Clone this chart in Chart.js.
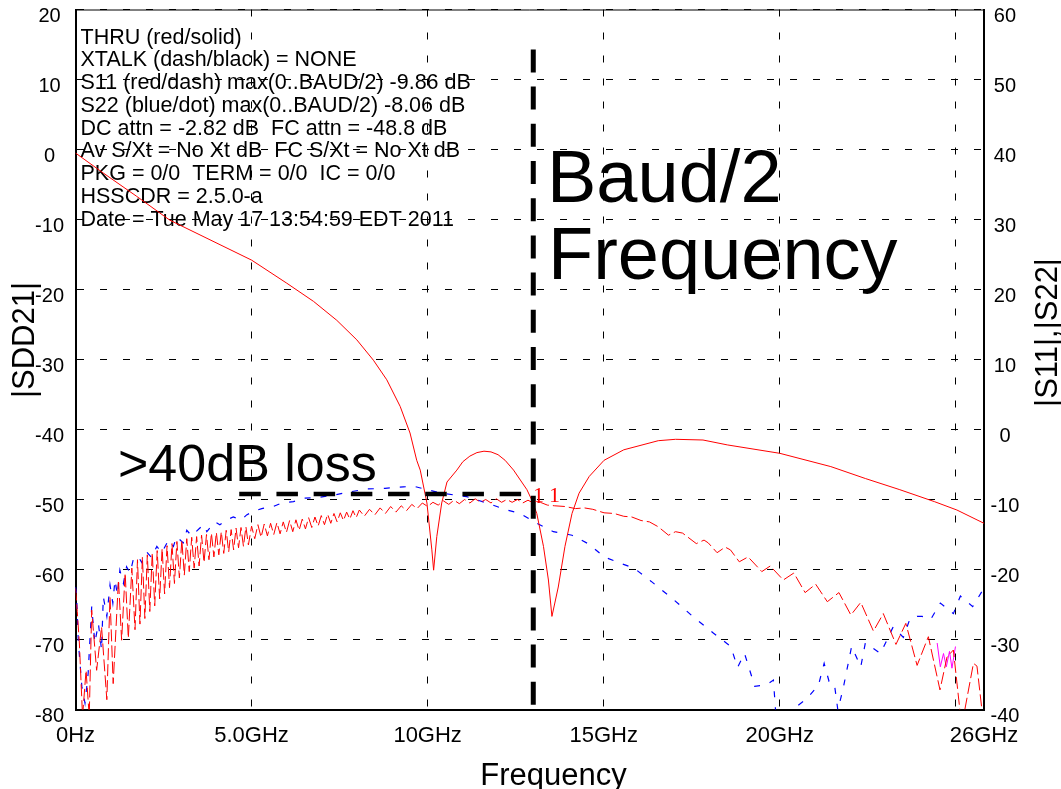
<!DOCTYPE html>
<html>
<head>
<meta charset="utf-8">
<title>|SDD21|, |S11|, |S22| vs Frequency</title>
<script src="https://cdn.jsdelivr.net/npm/chart.js@4.4.1/dist/chart.umd.min.js"></script>
<style>
  html, body { margin: 0; padding: 0; background: #fff; }
  #wrap { width: 1061px; height: 789px; }
</style>
</head>
<body>
<div id="wrap"><canvas id="chart"></canvas></div>
<script>
// frequency ticks (GHz) and the labels printed under them
const xTickValues = [0, 5, 10, 15, 20, 25, 25.8];
const xTickLabels = ['0Hz', '5.0GHz', '10GHz', '15GHz', '20GHz', '', '26GHz'];

// |SDD21| thru response, left axis (dB)
const thruGHz = [0, 0.8, 1.74, 2.68, 3.82, 5.0, 6.0, 6.76, 7.42, 7.99, 8.46, 8.84, 9.22, 9.5, 9.69, 9.79,
  9.98, 10.12, 10.17, 10.26, 10.4, 10.55, 10.83, 11.0, 11.2, 11.4, 11.6, 11.8, 12.0, 12.2, 12.44, 12.82,
  12.96, 13.1, 13.29, 13.43, 13.53, 13.71, 13.9, 14.1, 14.3, 14.59, 15.01, 15.57, 16.55, 17.04, 17.82,
  18.51, 20.0, 21.45, 22.43, 23.41, 24.39, 25.03, 25.8];
const thruDb = [-0.5, -3.4, -6.7, -10.1, -12.9, -15.8, -19.1, -21.7, -24.4, -27.2, -30.1, -32.9, -36.7, -40.5, -44.4, -45.8,
  -50.5, -57.2, -60.1, -55.3, -50.5, -47.5, -45.8, -44.6, -43.8, -43.3, -43.1, -43.2, -43.6, -44.4, -45.8, -48.6,
  -50.1, -52, -56.7, -61.5, -66.7, -62.5, -56.7, -52, -49.1, -46.7, -44.4, -42.9, -41.6, -41.4, -41.5,
  -42.2, -43.4, -45.3, -47, -48.6, -50.3, -51.5, -53.4];

// |S11| (red dash), right axis (dB)
const s11GHz = [0.00, 0.05, 0.11, 0.20, 0.30, 0.39, 0.46, 0.60, 0.74, 0.89, 0.98, 1.07, 1.22, 1.31, 1.41, 1.50, 1.60, 1.69,
  1.76, 1.83, 1.90, 1.97, 2.04, 2.11, 2.18, 2.25, 2.32, 2.39, 2.46, 2.53, 2.60, 2.67, 2.74, 2.81, 2.88, 2.95,
  3.02, 3.09, 3.16, 3.23, 3.30, 3.37, 3.44, 3.51, 3.58, 3.65, 3.72, 3.79, 3.86, 3.93, 4.00, 4.07, 4.14, 4.21,
  4.28, 4.35, 4.42, 4.49, 4.56, 4.63, 4.70, 4.77, 4.84, 4.91,
  5.00, 5.09, 5.18, 5.27, 5.36, 5.45, 5.54, 5.63, 5.72, 5.81, 5.90, 5.99, 6.08, 6.17, 6.26, 6.35, 6.44, 6.53,
  6.62, 6.71, 6.80, 6.89, 6.98, 7.07, 7.16, 7.25, 7.34, 7.43, 7.52, 7.61, 7.70, 7.79, 7.88, 7.97, 8.06, 8.20,
  8.35, 8.50, 8.65, 8.80, 8.95, 9.10, 9.25, 9.40, 9.55, 9.70, 9.85, 10.00, 10.15, 10.30, 10.45, 10.60, 10.75,
  10.90, 11.05, 11.20, 11.35, 11.50, 11.65, 11.80, 11.95, 12.10, 12.25, 12.40, 12.55, 12.70, 12.85, 13.00,
  13.20, 13.40, 13.61, 13.90, 14.20, 14.45, 14.69, 15.01, 15.30, 15.57, 15.80, 16.06, 16.30, 16.55, 16.84,
  17.04, 17.24, 17.63, 17.85, 17.97, 18.22, 18.45, 18.60, 18.85, 19.10, 19.49, 19.73, 20.10, 20.40, 20.72,
  21.02, 21.35, 21.68, 22.02, 22.30, 22.66, 22.94, 23.30, 23.58, 23.90, 24.22, 24.55, 24.75, 24.93, 25.12,
  25.22, 25.50, 25.60, 25.74, 25.80];
const s11Db = [-22.7, -26, -30.5, -41, -34.4, -41, -25.8, -34.4, -28.2, -38.6, -23.9, -36.3, -21.5, -30.1, -20.5, -29.8, -19.8, -28.6,
  -18.6, -27.8, -18.2, -27.0, -17.9, -26.0, -17.6, -25.2, -17.3, -24.2, -17.0, -23.5, -16.6, -22.6, -16.3, -22.0, -16.0, -21.2,
  -15.8, -20.8, -15.6, -20.3, -15.4, -19.8, -15.3, -19.5, -15.1, -19.0, -15.0, -18.6, -14.8, -18.2, -14.7, -17.9, -14.6, -17.7,
  -14.4, -17.5, -14.3, -17.2, -14.1, -16.9, -14.0, -16.7, -13.9, -16.5,
  -13.8, -15.6, -13.6, -15.4, -13.5, -15.2, -13.4, -15.0, -13.3, -14.9, -13.2, -14.7, -13.0, -14.6, -12.9, -14.4, -12.8, -14.2,
  -12.6, -14.0, -12.5, -13.8, -12.3, -13.6, -12.1, -13.4, -12.0, -13.2, -11.9, -13.0, -11.8, -12.8, -11.6, -12.6, -11.5, -12.4,
  -11.4, -12.2, -11.2, -12.0, -11.0, -11.8, -10.9, -11.6, -10.7, -11.3, -10.5, -11.0, -10.4, -10.8, -10.2, -10.7, -10.1,
  -10.6, -10.0, -10.5, -9.9, -10.4, -10.0, -10.5, -9.9, -10.4, -10.0, -10.4, -10.0, -10.5, -10.1, -10.5,
  -10.4, -10.8, -10.9, -11.0, -11.3, -11.2, -11.4, -11.9, -12.0, -12.4, -12.5, -13.0, -13.2, -13.9, -15.1,
  -14.6, -14.8, -16.3, -15.8, -16.2, -17.6, -16.8, -17.2, -18.9, -18.2, -20.3, -19.5, -21.5, -20.5, -23.3,
  -22.1, -24.6, -23.3, -26.5, -24.7, -28.8, -26.3, -30.7, -27.7, -33.7, -29.6, -37.2, -32.5, -31.5, -40.3,
  -41, -33.4, -33.8, -40, -41];

// |S22| (blue dot), right axis (dB)
const s22GHz = [0.00, 0.03, 0.08, 0.18, 0.27, 0.36, 0.46, 0.55, 0.65, 0.74, 0.79, 0.89, 0.98, 1.06, 1.12, 1.19, 1.26, 1.36,
  1.45, 1.55, 1.64, 1.78, 1.88, 2.02, 2.16, 2.31, 2.45, 2.64, 2.78, 2.87, 3.06, 3.16, 3.30, 3.63, 3.73, 3.96,
  4.10, 4.30, 4.48, 4.72, 4.86, 5.05, 5.29, 5.62, 5.86, 6.19, 6.52, 6.90, 7.30, 7.80, 8.27, 8.79, 9.31, 9.60,
  9.98, 10.40, 11.11, 11.68, 12.25, 12.63, 13.10, 13.57, 14.10, 14.59, 15.01, 15.47, 15.86, 16.35, 16.94,
  17.53, 18.12, 18.61, 18.80, 19.00, 19.29, 19.54, 19.68, 19.82, 19.88, 20.20, 20.47, 20.78, 21.10, 21.26,
  21.40, 21.55, 21.65, 21.80, 22.04, 22.30, 22.43, 22.72, 22.86, 23.22, 23.51, 23.70, 23.90, 24.04, 24.29,
  24.56, 24.93, 25.13, 25.48, 25.77];
const s22Db = [-22.5, -23.6, -30.3, -36.7, -39.1, -34.8, -25.3, -30.5, -27.7, -31.5, -23.9, -26.7, -22.2, -24.8, -21.5, -23.6, -20.1, -22,
  -19.6, -20.5, -18.6, -18.1, -19, -17.5, -18.3, -16.7, -17.6, -15.8, -16.7, -15.3, -16.2, -14.4, -15.2, -13.6, -14.6, -13.2,
  -13.6, -12.9, -12.5, -12.9, -12.2, -11.7, -11.3, -11, -10.5, -10.3, -9.8, -9.7, -9.4, -8.9, -8.5, -8.4, -8.2, -8.1,
  -8.6, -9.1, -9.6, -10.5, -11.5, -12, -13.4, -14.6, -15.1, -16.4, -18.2, -19.1, -19.8, -21.7, -24.1,
  -26.7, -29.1, -31, -34, -32, -36.7, -36.5, -36.3, -35.8, -40.1, -41, -39.6, -38.4, -36.5, -33.4,
  -36, -36.3, -40.1, -37, -31, -33.9, -30.5, -31.5, -32, -28.2, -29.7, -27, -26.7, -26.7, -27.1,
  -24.8, -26.3, -23.8, -25.3, -22.9];

// short magenta trace near the top end, right axis (dB)
const magGHz = [24.47, 24.56, 24.65, 24.73, 24.82, 24.89, 24.99];
const magDb = [-30.5, -33.9, -32, -33.9, -31.7, -34.1, -31];

// Baud/2 marker and the loss level at Baud/2 (left axis)
const baudHalfGHz = 13.0;
const baudLineTop = 14.3;
const lossLineStartGHz = 4.65;
const lossLevelDb = -49.2;

// red "1" marker labels
const markerGHz = [13.15, 13.6];
const markerDb = [-49.6, -49.6];

const notes = [
  'THRU (red/solid)',
  'XTALK (dash/black) = NONE',
  'S11 (red/dash) max(0..BAUD/2) -9.86 dB',
  'S22 (blue/dot) max(0..BAUD/2) -8.06 dB',
  'DC attn = -2.82 dB  FC attn = -48.8 dB',
  'Av S/Xt = No Xt dB  FC S/Xt = No Xt dB',
  'PKG = 0/0  TERM = 0/0  IC = 0/0',
  'HSSCDR = 2.5.0-a',
  'Date = Tue May 17 13:54:59 EDT 2011'
];

const pts = (xs, ys) => xs.map((x, i) => ({ x: x, y: ys[i] }));
const FONT = '"Liberation Sans", Arial, Helvetica, sans-serif';

// keep the plot box fixed: no extra room reserved for the end tick labels
const noEdgePadding = s => {
  s.paddingTop = 0;
  s.paddingBottom = 0;
  s.paddingLeft = 0;
  s.paddingRight = 0;
};

const textPlugin = {
  id: 'plotText',
  beforeDatasetsDraw(chart) {
    const { ctx, chartArea: a } = chart;
    ctx.save();
    ctx.fillStyle = '#000';
    ctx.textAlign = 'left';
    ctx.textBaseline = 'alphabetic';
    ctx.font = '21.5px ' + FONT;
    notes.forEach((t, i) => ctx.fillText(t, a.left + 5, a.top + 34 + i * 22.75));

    ctx.font = '52px ' + FONT;
    ctx.fillText('>40dB loss', 118, 481);

    ctx.font = '74px ' + FONT;
    ctx.fillText('Baud/2', 547, 202);
    ctx.fillText('Frequency', 548, 279);
    ctx.restore();
  },
  afterDraw(chart) {
    const { ctx, chartArea: a, scales } = chart;
    ctx.save();
    // closing line along the top of the frame
    ctx.strokeStyle = '#000';
    ctx.lineWidth = 1;
    ctx.beginPath();
    ctx.moveTo(a.left, a.top + 0.5);
    ctx.lineTo(a.right, a.top + 0.5);
    ctx.stroke();

    // axis titles
    ctx.fillStyle = '#000';
    ctx.font = '31px ' + FONT;
    ctx.textAlign = 'center';
    ctx.textBaseline = 'alphabetic';
    ctx.fillText('Frequency', 553.5, 785);
    ctx.textBaseline = 'middle';
    ctx.save();
    ctx.translate(25, 340);
    ctx.rotate(-Math.PI / 2);
    ctx.fillText('|SDD21|', 0, 0);
    ctx.restore();
    ctx.save();
    ctx.translate(1048, 332.5);
    ctx.rotate(-Math.PI / 2);
    ctx.fillText('|S11|,|S22|', 0, 0);
    ctx.restore();

    // marker labels
    ctx.fillStyle = '#ff0000';
    ctx.font = '22px "Liberation Serif", serif';
    markerGHz.forEach((f, i) => {
      ctx.fillText('1', scales.x.getPixelForValue(f), scales.y.getPixelForValue(markerDb[i]));
    });
    ctx.restore();
  }
};

new Chart(document.getElementById('chart'), {
  type: 'line',
  data: {
    datasets: [
      {
        label: 'Baud/2',
        data: pts([baudHalfGHz, baudHalfGHz], [baudLineTop, -80]),
        yAxisID: 'y',
        borderColor: '#000',
        borderWidth: 5,
        borderDash: [23, 14.2],
        borderCapStyle: 'butt'
      },
      {
        label: 'loss at Baud/2',
        data: pts([lossLineStartGHz, baudHalfGHz], [lossLevelDb, lossLevelDb]),
        yAxisID: 'y',
        borderColor: '#000',
        borderWidth: 4.5,
        borderDash: [21.5, 15.7],
        borderCapStyle: 'butt'
      },
      {
        label: 'THRU',
        data: pts(thruGHz, thruDb),
        yAxisID: 'y',
        borderColor: '#ff0000',
        borderWidth: 1
      },
      {
        label: 'S11',
        data: pts(s11GHz, s11Db),
        yAxisID: 'y1',
        borderColor: '#ff0000',
        borderWidth: 1,
        borderDash: [12, 4]
      },
      {
        label: 'S22',
        data: pts(s22GHz, s22Db),
        yAxisID: 'y1',
        borderColor: '#0000ff',
        borderWidth: 1.2,
        borderDash: [6, 10]
      },
      {
        label: 'S11 segment',
        data: pts(magGHz, magDb),
        yAxisID: 'y1',
        borderColor: '#ff00ff',
        borderWidth: 1
      }
    ]
  },
  options: {
    responsive: true,
    maintainAspectRatio: false,
    animation: false,
    events: [],
    elements: { point: { radius: 0 }, line: { tension: 0 } },
    layout: { padding: { top: 9.5, left: 0, right: 0, bottom: 0 } },
    plugins: { legend: { display: false }, tooltip: { enabled: false } },
    scales: {
      x: {
        type: 'linear',
        min: 0,
        max: 25.8,
        afterBuildTicks: s => { s.ticks = xTickValues.map(v => ({ value: v })); },
        afterFit: s => { s.height = 79.5; noEdgePadding(s); },
        ticks: {
          autoSkip: false,
          maxRotation: 0,
          padding: 13.5,
          color: '#000',
          font: { family: FONT, size: 22 },
          callback: v => xTickLabels[xTickValues.indexOf(v)]
        },
        grid: { color: '#000', lineWidth: 1, drawTicks: false },
        border: { display: true, color: '#000', width: 2, dash: [7, 16] }
      },
      y: {
        position: 'left',
        min: -80,
        max: 20,
        afterFit: s => { s.width = 75.5; noEdgePadding(s); },
        ticks: {
          stepSize: 10,
          labelOffset: 7,
          crossAlign: 'center',
          padding: 11.5,
          color: '#000',
          font: { family: FONT, size: 20 }
        },
        grid: { color: '#000', lineWidth: 1, drawTicks: false },
        border: { display: true, color: '#000', width: 2, dash: [7, 16] }
      },
      y1: {
        position: 'right',
        min: -40,
        max: 60,
        afterFit: s => { s.width = 77; noEdgePadding(s); },
        ticks: {
          stepSize: 10,
          labelOffset: 7,
          crossAlign: 'center',
          padding: 6.5,
          color: '#000',
          font: { family: FONT, size: 20 }
        },
        grid: { drawOnChartArea: false, drawTicks: false },
        border: { display: true, color: '#000', width: 2 }
      }
    }
  },
  plugins: [textPlugin]
});
</script>
</body>
</html>
